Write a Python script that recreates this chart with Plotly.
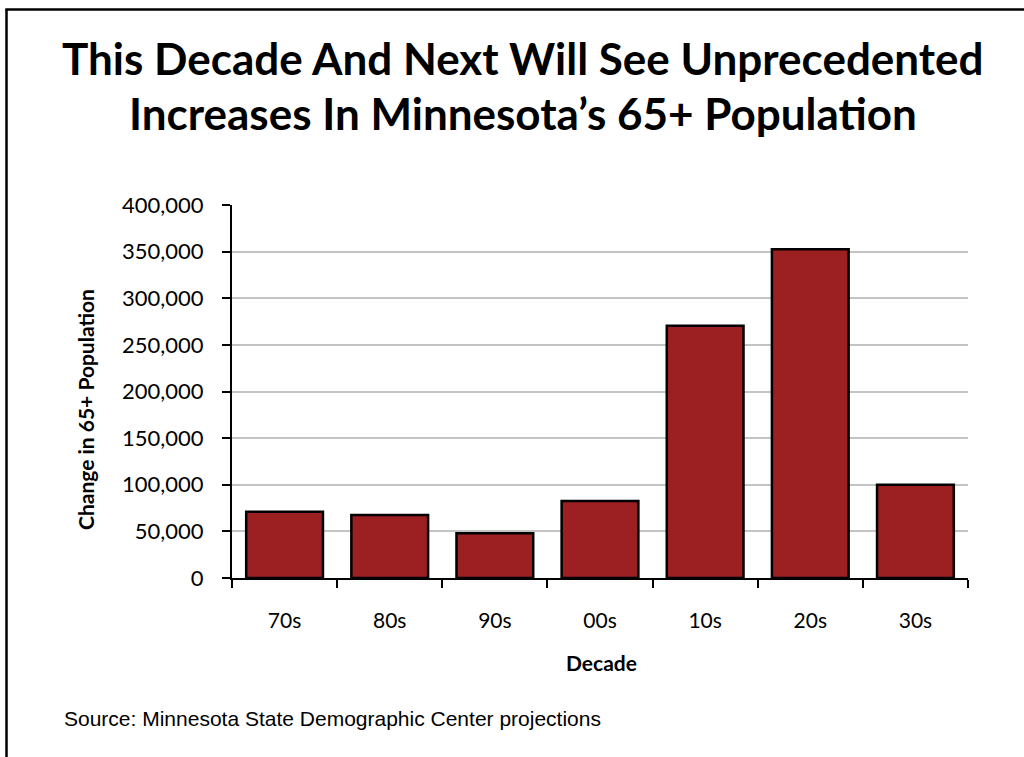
import plotly.graph_objects as go

decades = ["70s", "80s", "90s", "00s", "10s", "20s", "30s"]
change_65plus = [71000, 67600, 48000, 82600, 270600, 352500, 100000]
y_ticks = [0, 50000, 100000, 150000, 200000, 250000, 300000, 350000, 400000]
y_tick_labels = ["0", "50,000", "100,000", "150,000", "200,000", "250,000", "300,000", "350,000", "400,000"]

title_line1 = "This Decade And Next Will See Unprecedented"
title_line2 = "Increases In Minnesota\u2019s 65+ Population"
x_title = "Decade"
y_title = "Change in 65+ Population"
source = "Source: Minnesota State Demographic Center projections"

W, H = 1024, 757
L, R, T, B = 232, 968, 205, 578  # plot area pixels


def px(x):
    return (x - L) / (R - L)


def py(y):
    return (B - y) / (B - T)


FONT = "Lato, 'Open Sans', sans-serif"

fig = go.Figure(
    go.Bar(
        x=decades,
        y=change_65plus,
        marker=dict(color="#9C1F22", line=dict(color="black", width=2.5)),
        hoverinfo="x+y",
    )
)

fig.update_layout(
    width=W,
    height=H,
    margin=dict(l=L, r=W - R, t=T, b=H - B, pad=0),
    paper_bgcolor="white",
    plot_bgcolor="white",
    showlegend=False,
    bargap=0.27,
    font=dict(family=FONT, color="black"),
)

fig.update_xaxes(
    type="category",
    showline=True,
    linecolor="black",
    linewidth=2,
    ticks="outside",
    tickson="boundaries",
    ticklen=8,
    tickwidth=2,
    tickcolor="black",
    tickfont=dict(size=21, family=FONT, color="black"),
    ticklabelstandoff=23,
    showgrid=False,
)

fig.update_yaxes(
    range=[0, 400000],
    tickvals=y_ticks,
    ticktext=y_tick_labels,
    showline=True,
    linecolor="black",
    linewidth=2,
    ticks="outside",
    ticklen=8,
    tickwidth=2,
    tickcolor="black",
    tickfont=dict(size=22, family=FONT, color="black"),
    ticklabelstandoff=14,
    showgrid=True,
    gridcolor="#C4C4C4",
    gridwidth=1.5,
    zeroline=False,
)

annotations = [
    dict(text="<b>" + title_line1 + "</b>", x=px(523), y=py(58), xref="paper", yref="paper",
         showarrow=False, xanchor="center", yanchor="middle",
         font=dict(size=44, family=FONT, color="black")),
    dict(text="<b>" + title_line2 + "</b>", x=px(523), y=py(113), xref="paper", yref="paper",
         showarrow=False, xanchor="center", yanchor="middle",
         font=dict(size=44, family=FONT, color="black")),
    dict(text="<b>" + x_title + "</b>", x=px(601), y=py(662), xref="paper", yref="paper",
         showarrow=False, xanchor="center", yanchor="middle",
         font=dict(size=21, family=FONT, color="black")),
    dict(text="<b>" + y_title + "</b>", x=px(85), y=py(410), xref="paper", yref="paper",
         showarrow=False, xanchor="center", yanchor="middle", textangle=-90,
         font=dict(size=21, family=FONT, color="black")),
    dict(text=source, x=px(62), y=py(718), xref="paper", yref="paper",
         showarrow=False, xanchor="left", yanchor="middle",
         font=dict(size=21, family="'Liberation Sans', Arial, sans-serif", color="black")),
]
fig.update_layout(annotations=annotations)

# slide border (left and top edges visible)
fig.add_shape(type="line", xref="paper", yref="paper",
              x0=px(6.5), y0=py(H + 5), x1=px(6.5), y1=py(9.5),
              line=dict(color="black", width=2.5))
fig.add_shape(type="line", xref="paper", yref="paper",
              x0=px(5.3), y0=py(9.5), x1=px(W + 5), y1=py(9.5),
              line=dict(color="black", width=2.5))

fig.write_html("out.html", config={"displayModeBar": False},
               post_script="document.body.style.margin='0px';")
